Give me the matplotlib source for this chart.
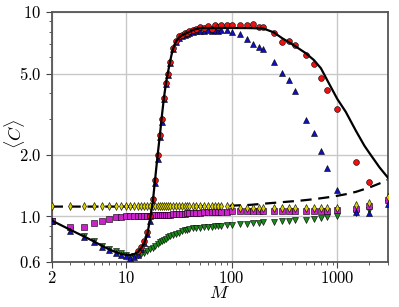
import matplotlib
matplotlib.use("Agg")
import matplotlib.pyplot as plt
from matplotlib.ticker import FixedLocator, NullFormatter

plt.rcParams['mathtext.fontset'] = 'cm'
plt.rcParams['font.family'] = ['DejaVu Serif']

# ---- data ----
M_grid = [2, 3, 4, 5, 6, 7, 8, 9, 10, 11, 12, 13, 14, 15, 16, 17, 18, 19, 20,
          21, 22, 23, 24, 25, 26, 28, 30, 32, 34, 36, 38, 40, 43, 46, 50, 55,
          60, 65, 70, 75, 80, 90, 100, 120, 140, 160, 180, 200, 250, 300, 350,
          400, 500, 600, 700, 800, 1000, 1500, 2000, 3000]

# theory lines
M_solid = [2, 3, 4, 5, 6, 7, 8, 9, 10, 11, 12, 13, 14, 15, 16, 17, 18, 19, 20,
           21, 22, 23, 24, 25, 26, 27, 28, 29, 30, 32, 34, 36, 38, 40, 43, 46,
           50, 55, 60, 80, 100, 150, 200, 250, 300, 350, 400, 500, 600, 700,
           800, 900, 1000, 1200, 1500, 1800, 2000, 2500, 3000]
C_solid = [0.955, 0.86, 0.80, 0.755, 0.717, 0.690, 0.670, 0.656, 0.650, 0.648,
           0.655, 0.670, 0.700, 0.745, 0.82, 0.98, 1.18, 1.55, 2.0,
           2.5, 3.15, 3.85, 4.5, 5.05, 5.6, 6.15, 6.6, 6.95, 7.2, 7.52, 7.7,
           7.8, 7.9, 8.0, 8.15, 8.25, 8.32, 8.35, 8.35, 8.35, 8.35, 8.34, 8.3,
           7.95, 7.45, 7.1, 6.8, 6.3, 5.82, 5.3, 4.65, 4.15, 3.75, 3.25, 2.62,
           2.22, 2.05, 1.74, 1.55]

M_dash = [2, 10, 50, 100, 150, 200, 300, 450, 600, 900, 1200, 1500, 2000, 2500, 3000]
C_dash = [1.118, 1.118, 1.12, 1.13, 1.14, 1.155, 1.175, 1.196, 1.215, 1.25,
          1.285, 1.32, 1.385, 1.45, 1.51]

# red circles (start at M=13)
M_red = M_grid[11:-1]
C_red = [0.68, 0.71, 0.76, 0.84, 1.0, 1.22, 1.5, 2.0,
         2.5, 3.0, 3.8, 4.5, 5.0, 5.7, 6.7, 7.2, 7.6, 7.7, 7.85, 7.9, 8.1,
         8.2, 8.3, 8.4, 8.35, 8.5, 8.3, 8.6, 8.45, 8.6, 8.65, 8.6, 8.6, 8.6,
         8.7, 8.42, 8.42, 7.87, 7.16, 7.21, 6.9, 6.17, 5.55, 4.76, 4.16, 3.37,
         1.84, 1.47]

# blue triangles up
C_blue = [0.95, 0.85, 0.79, 0.75, 0.71, 0.685, 0.665, 0.65, 0.64, 0.63, 0.632,
          0.65, 0.69, 0.74, 0.82, 0.95, 1.17, 1.45, 1.9,
          2.45, 2.9, 3.75, 4.45, 4.9, 5.6, 6.6, 7.15, 7.5, 7.65, 7.75, 7.8,
          7.9, 8.0, 8.05, 8.1, 8.1, 8.15, 8.1, 8.15, 8.1, 8.15, 8.2, 8.01,
          7.8, 7.36, 6.95, 6.72, 6.59, 5.68, 5.03, 4.66, 4.11, 2.97, 2.56,
          2.08, 1.72, 1.35, 1.05, 1.04, 1.15]

# green triangles down
C_green = [0.95, 0.86, 0.80, 0.755, 0.72, 0.695, 0.675, 0.66, 0.645, 0.635,
           0.638, 0.645, 0.655, 0.665, 0.68, 0.69, 0.705, 0.72, 0.735,
           0.75, 0.76, 0.77, 0.78, 0.79, 0.80, 0.81, 0.82, 0.835, 0.845, 0.855,
           0.86, 0.87, 0.875, 0.878, 0.88, 0.885, 0.89, 0.89, 0.895, 0.9, 0.9,
           0.905, 0.91, 0.915, 0.92, 0.925, 0.93, 0.935, 0.94, 0.95, 0.955,
           0.96, 0.965, 0.97, 0.98, 0.99, 1.0, 1.04, 1.08, 1.17]

# magenta squares
C_mag = [0.955, 0.885, 0.89, 0.93, 0.953, 0.971, 0.99, 0.995, 1.0, 1.0, 1.003,
         1.005, 1.006, 1.008, 1.01, 1.01, 1.012, 1.013, 1.015,
         1.016, 1.018, 1.019, 1.02, 1.021, 1.022, 1.025, 1.028, 1.03, 1.032,
         1.034, 1.036, 1.038, 1.04, 1.042, 1.045, 1.047, 1.05, 1.05, 1.052,
         1.053, 1.055, 1.057, 1.06, 1.06, 1.06, 1.06, 1.06, 1.06, 1.06, 1.06,
         1.06, 1.06, 1.06, 1.06, 1.065, 1.065, 1.07, 1.09, 1.12, 1.2]

# yellow diamonds
C_yel = [1.12] * 43 + [1.10, 1.10, 1.10, 1.10, 1.10, 1.10, 1.10, 1.10, 1.10,
                       1.10, 1.10, 1.10, 1.10, 1.10, 1.14, 1.16, 1.25]

x_ticks = [2, 10, 100, 1000]
x_ticklabels = ['2', '10', '100', '1000']
y_ticks = [0.6, 1.0, 2.0, 5.0, 10]
y_ticklabels = ['0.6', '1.0', '2.0', '5.0', '10']

# ---- plot ----
fig = plt.figure(figsize=(3.99, 3.07), dpi=100)
ax = fig.add_axes([0.130, 0.147, 0.842, 0.814])
ax.set_xscale('log')
ax.set_yscale('log')

mk = dict(linestyle='none', markeredgecolor='black', markeredgewidth=0.4)
ax.plot(M_grid, C_green, marker='v', markersize=4.2, color='#1a8a1a', zorder=3, **mk)
ax.plot(M_grid, C_mag, marker='s', markersize=4.0, color='#cc22cc', zorder=4, **mk)
ax.plot(M_grid, C_blue, marker='^', markersize=4.2, color='#1010c0', zorder=5, **mk)
ax.plot(M_red, C_red, marker='o', markersize=4.2, color='#ee1111', zorder=6, **mk)
ax.plot(M_grid, C_yel, marker='d', markersize=4.2, color='#d8d000', zorder=7, **mk)
ax.plot(M_dash, C_dash, color='black', linestyle=(0, (5, 3)), linewidth=1.6, zorder=2)
ax.plot(M_solid, C_solid, color='black', linewidth=1.6, zorder=8)

ax.set_xlim(2, 3000)
ax.set_ylim(0.6, 10)

ax.xaxis.set_major_locator(FixedLocator(x_ticks))
ax.set_xticklabels([r'$%s$' % s for s in x_ticklabels])
ax.yaxis.set_major_locator(FixedLocator(y_ticks))
ax.set_yticklabels([r'$%s$' % s for s in y_ticklabels])
ax.yaxis.set_minor_locator(FixedLocator([0.7, 0.8, 0.9, 3, 4, 6, 7, 8, 9]))
ax.yaxis.set_minor_formatter(NullFormatter())
ax.xaxis.set_minor_formatter(NullFormatter())

ax.tick_params(which='major', direction='out', length=4, width=0.8,
               labelsize=12, color='#444444')
ax.tick_params(axis='x', which='major', pad=2)
ax.tick_params(which='minor', direction='out', length=2.5, width=0.6, color='#444444')

ax.grid(True, which='major', color='#c8c8c8', linewidth=1.0, zorder=0)
ax.set_axisbelow(True)
for s in ax.spines.values():
    s.set_color('#555555')
    s.set_linewidth(1.3)

ax.set_xlabel(r'$M$', fontsize=13)
ax.set_ylabel(r'$\langle C\rangle$', fontsize=13)
ax.xaxis.set_label_coords(0.5, -0.125)
ax.yaxis.set_label_coords(-0.11, 0.51)
ax.xaxis.label.set_va('center')
ax.yaxis.label.set_va('center')

fig.savefig('out.png', dpi=100)
